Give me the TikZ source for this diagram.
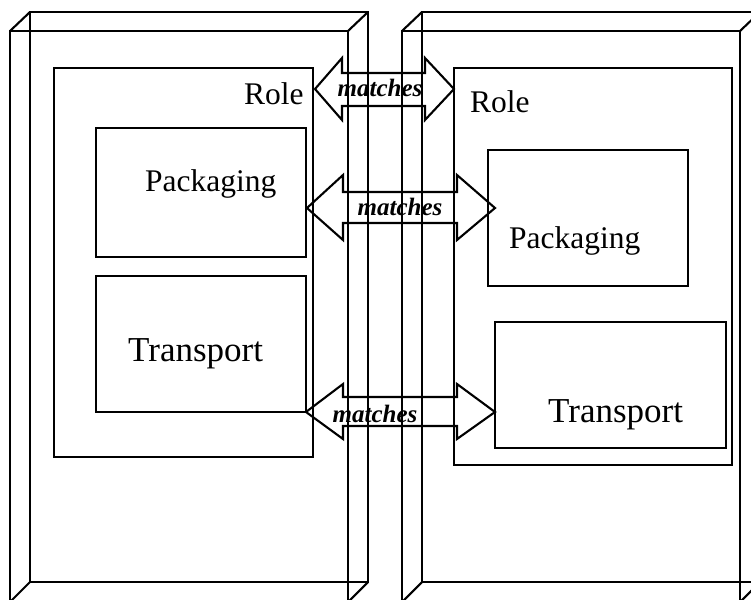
\documentclass[tikz,border=0pt]{standalone}
\usepackage{fontspec}
\setmainfont{Liberation Serif}
\begin{document}
\begin{tikzpicture}[x=1pt,y=-1pt,
  edge/.style={draw=black,line width=2.1pt,line join=miter},
  lbl/.style={anchor=base west,inner sep=0pt,font=\fontsize{31.5}{36}\selectfont},
  tlbl/.style={anchor=base west,inner sep=0pt,font=\fontsize{35}{40}\selectfont},
  mlbl/.style={anchor=base,inner sep=0pt,font=\fontsize{25}{30}\selectfont\bfseries\itshape}]
\useasboundingbox (0,0) rectangle (751,599);
% left 3D box
\draw[edge] (10,31) rectangle (348,602);
\draw[edge] (30,12) rectangle (368,582);
\draw[edge] (10,31) -- (30,12) (348,31) -- (368,12) (10,602) -- (30,582) (348,602) -- (368,582);
% right 3D box
\draw[edge] (402,31) rectangle (740,602);
\draw[edge] (422,12) rectangle (760,582);
\draw[edge] (402,31) -- (422,12) (740,31) -- (760,12) (402,602) -- (422,582) (740,602) -- (760,582);
% left role
\draw[edge] (54,68) rectangle (313,457);
\node[lbl] (roleL) at (244,104) {Role};
\draw[edge] (96,128) rectangle (306,257);
\node[lbl] (packL) at (145,191) {Packaging};
\draw[edge] (96,276) rectangle (306,412);
\node[tlbl] (transL) at (128,361) {Transport};
% right role
\draw[edge] (454,68) rectangle (732,465);
\node[lbl] (roleR) at (470,113) {Role};
\draw[edge] (488,150) rectangle (688,286);
\node[lbl] (packR) at (509,248) {Packaging};
\draw[edge] (495,322) rectangle (726,448);
\node[tlbl] (transR) at (548,422) {Transport};
% arrows
\draw[edge] (315,89) -- (342,58) -- (342,73) -- (425,73) -- (425,58) -- (454,89)
  -- (425,120) -- (425,106) -- (342,106) -- (342,120) -- cycle;
\node[mlbl] (m1) at (380,97) {matches};
\draw[edge] (307,208) -- (343,175) -- (343,192) -- (457,192) -- (457,175) -- (495,208)
  -- (457,240) -- (457,223) -- (343,223) -- (343,240) -- cycle;
\node[mlbl] (m2) at (400,215) {matches};
\draw[edge] (306,412) -- (343,384) -- (343,397) -- (457,397) -- (457,384) -- (495,412)
  -- (457,439) -- (457,426) -- (343,426) -- (343,439) -- cycle;
\node[mlbl] (m3) at (375,422) {matches};
\end{tikzpicture}
\end{document}
